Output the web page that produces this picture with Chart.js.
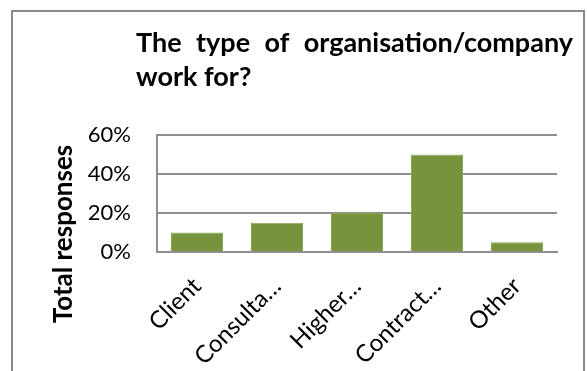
<!DOCTYPE html>
<html>
<head>
<meta charset="utf-8">
<script src="https://cdn.jsdelivr.net/npm/chart.js@4"></script>
<style>
    body { margin: 0; background: #fff; }
    .wrap { position: relative; width: 587px; height: 371px; overflow: hidden; }
    .frame {
        position: absolute; left: 11px; top: 10px; width: 574px; height: 400px;
        box-sizing: border-box; border: 2px solid #8a8a8a; border-bottom: none;
    }
    canvas { position: absolute; left: 0; top: 0; }
</style>
</head>
<body>
<div class="wrap">
    <div class="frame"></div>
    <canvas id="org_graph"></canvas>
</div>
<script>
const categories = ['Client', 'Consulta…', 'Higher…', 'Contract…', 'Other'];
const responses = [10, 15, 20, 50, 5];
const yTicks = [0, 20, 40, 60];

const titleLine1 = ['The', 'type', 'of', 'organisation/company'];
const titleLine2 = 'work for?';
const yTitle = 'Total responses';

// Word-style justified title and the y title, drawn on the canvas
const textPlugin = {
    id: 'textPlugin',
    afterDraw: function (chart) {
        const ctx = chart.ctx;
        ctx.save();
        ctx.fillStyle = '#000';
        ctx.font = 'bold 27px Lato';
        ctx.textBaseline = 'alphabetic';
        ctx.textAlign = 'left';
        const x0 = 136, x1 = 573;
        let total = 0;
        titleLine1.forEach(function (w) { total += ctx.measureText(w).width; });
        const gap = (x1 - x0 - total) / (titleLine1.length - 1);
        let x = x0;
        titleLine1.forEach(function (w) {
            ctx.fillText(w, x, 52);
            x += ctx.measureText(w).width + gap;
        });
        ctx.fillText(titleLine2, x0, 86);

        ctx.font = 'bold 26px Lato';
        ctx.translate(64, 234);
        ctx.rotate(-Math.PI / 2);
        ctx.textAlign = 'center';
        ctx.textBaseline = 'middle';
        ctx.fillText(yTitle, 0, 0);
        ctx.restore();
    }
};

const orgGraph = document.getElementById('org_graph');
new Chart(orgGraph, {
    type: 'bar',
    data: {
        labels: categories,
        datasets: [{
            label: 'Total responses',
            data: responses,
            backgroundColor: '#77933c',
            borderColor: '#8aa655',
            borderWidth: 1,
            borderSkipped: 'bottom',
            barPercentage: 0.65,
            categoryPercentage: 1.0
        }]
    },
    options: {
        responsive: true,
        maintainAspectRatio: false,
        animation: false,
        layout: {
            padding: { left: 0, top: 135, right: 30, bottom: 0 }
        },
        plugins: {
            legend: { display: false },
            title: { display: false },
            tooltip: { enabled: false }
        },
        scales: {
            y: {
                min: 0,
                max: 60,
                afterFit: function (scale) { scale.width = 157; },
                afterBuildTicks: function (scale) {
                    scale.ticks = yTicks.map(function (v) { return { value: v }; });
                },
                grid: {
                    color: '#8e8e8e',
                    lineWidth: 2,
                    drawTicks: false,
                    tickLength: 0
                },
                border: { display: true, color: '#8e8e8e', width: 2 },
                ticks: {
                    color: '#000',
                    padding: 26,
                    font: { family: 'Lato', size: 22 },
                    callback: function (v) { return v + '%'; }
                }
            },
            x: {
                afterFit: function (scale) { scale.height = 371 - 252; },
                grid: { display: false, drawTicks: false, tickLength: 0 },
                border: { display: true, color: '#8e8e8e', width: 2 },
                ticks: {
                    color: '#000',
                    padding: 20,
                    minRotation: 45,
                    maxRotation: 45,
                    autoSkip: false,
                    font: { family: 'Lato', size: 24 }
                }
            }
        }
    },
    plugins: [textPlugin]
});
</script>
</body>
</html>
